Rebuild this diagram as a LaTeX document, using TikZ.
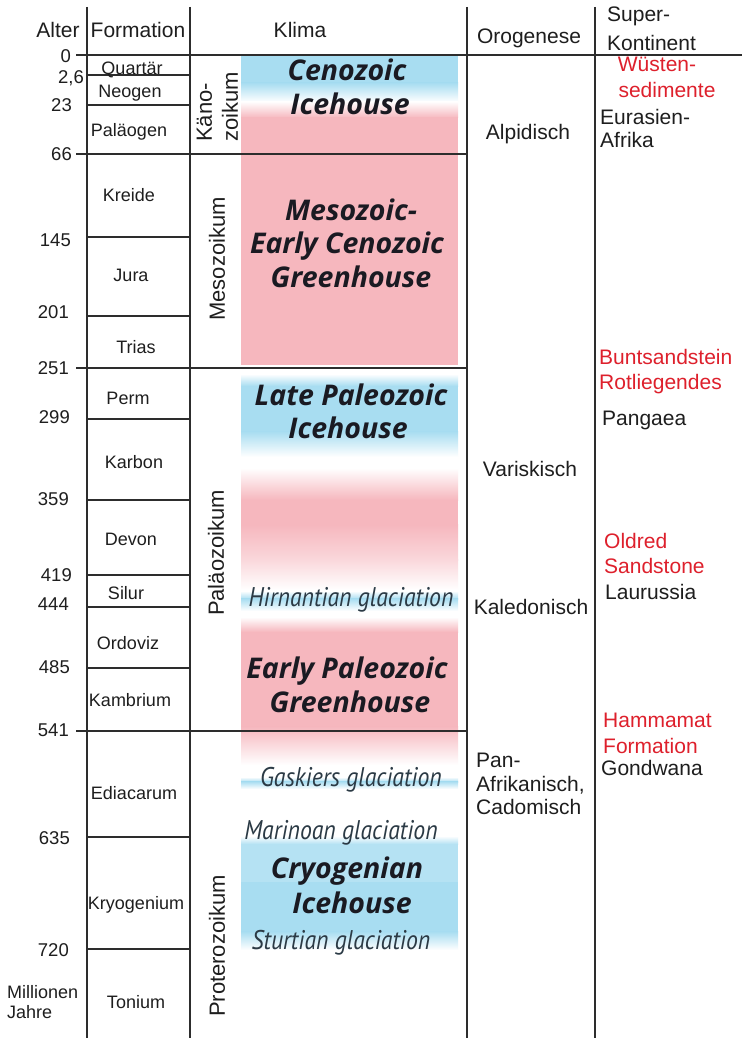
\documentclass[tikz,border=0pt]{standalone}
\usepackage{fontspec}
\setmainfont{Liberation Sans}
\newfontfamily\climfont{Open Sans}
\newfontfamily\glacfont[FakeStretch=0.88]{PT Sans}
\definecolor{pinkc}{RGB}{246,183,190}
\definecolor{bluec}{RGB}{168,221,241}
\definecolor{linec}{RGB}{45,45,45}
\definecolor{redc}{RGB}{222,32,44}
\definecolor{txt}{RGB}{30,30,30}
\definecolor{climtxt}{RGB}{26,26,34}
\definecolor{glactxt}{RGB}{43,58,69}
\newcommand\bandfill[3]{\fill[#3] (241,#1) rectangle (458,#2);}
\newcommand\bandgrad[4]{\shade[top color=#3,bottom color=#4] (241,#1) rectangle (458,#2);}
\begin{document}
\begin{tikzpicture}[x=1pt,y=-1pt,
  hrule/.style={draw=linec,line width=2pt},
  vrule/.style={draw=linec,line width=2.4pt},
  hdr/.style={font=\fontsize{21}{24}\selectfont,text=txt,inner sep=0pt,text height=15.1pt,text depth=0pt},
  fm/.style={font=\fontsize{18}{22}\selectfont,text=txt,inner sep=0pt,text height=13pt,text depth=0pt},
  age/.style={font=\fontsize{18.5}{22}\selectfont,text=txt,inner sep=0pt,text height=13.3pt,text depth=0pt,anchor=east},
  era/.style={font=\fontsize{22}{24}\selectfont,text=txt,inner sep=0pt,text height=15.8pt,text depth=0pt,rotate=90},
  sk/.style={hdr,anchor=west},
  skred/.style={sk,text=redc},
  clim/.style={font=\climfont\bfseries\itshape\fontsize{28.5}{32}\selectfont,text=climtxt,inner sep=0pt,text height=20.3pt,text depth=0pt},
  glac/.style={font=\glacfont\itshape\fontsize{27}{30}\selectfont,text=glactxt,inner sep=0pt,text height=18.9pt,text depth=0pt}
]
\useasboundingbox (0,0) rectangle (742,1038);
\fill[white] (0,0) rectangle (742,1038);
% climate band
\bandfill{55}{83}{bluec}
\bandgrad{83}{102}{bluec}{white}
\bandgrad{101.5}{118}{white}{pinkc}
\bandfill{117.5}{365}{pinkc}
\bandgrad{374}{386}{white}{bluec}
\bandfill{385.5}{432}{bluec}
\bandgrad{431.5}{457}{bluec}{white}
\bandgrad{468}{500}{white}{pinkc}
\bandfill{499.5}{525}{pinkc}
\bandgrad{524.5}{560}{pinkc}{pinkc!55}
\bandgrad{559.5}{590}{pinkc!55}{white}
\bandgrad{591}{599}{white}{bluec}
\bandgrad{598.5}{611}{bluec}{white}
\bandgrad{617}{632}{white}{pinkc}
\bandfill{631.5}{727}{pinkc}
\bandgrad{726.5}{765}{pinkc}{white}
\bandgrad{777}{782}{white}{bluec}
\bandgrad{781.5}{789}{bluec}{white}
\bandgrad{836}{844}{white}{bluec!85}
\bandfill{843.5}{882}{bluec!85}
\bandfill{881.5}{932}{bluec}
\bandgrad{931.5}{950}{bluec}{white}
% vertical rules
\draw[vrule] (87,7) -- (87,1038);
\draw[vrule] (190,7) -- (190,1038);
\draw[vrule] (467,7) -- (467,1038);
\draw[vrule] (595,7) -- (595,1038);
% horizontal rules
\draw[hrule] (76,55) -- (742,55);
\draw[hrule] (76,154) -- (467,154);
\draw[hrule] (76,368) -- (467,368);
\draw[hrule] (76,731) -- (467,731);
\foreach \yy in {75,105,237,316,419,500,575,607,668,837,949}
  \draw[hrule] (87,\yy) -- (190,\yy);
% headers
\node[hdr] (hAlter) at (58,30) {Alter};
\node[hdr] (hForm) at (138,30) {Formation};
\node[hdr] (hKlima) at (300,30) {Klima};
\node[hdr] (hOro) at (529,36) {Orogenese};
\node[sk] (hSup1) at (607,14) {Super-};
\node[sk] (hSup2) at (607,43) {Kontinent};
% ages
\node[age] (a0) at (71,56) {0};
\node[age] (a26) at (84,77) {2,6};
\node[age] (a23) at (72,105) {23};
\node[age] (a66) at (72,154) {66};
\node[age] (a145) at (71,240) {145};
\node[age] (a201) at (69,312) {201};
\node[age] (a251) at (69,368) {251};
\node[age] (a299) at (70,417) {299};
\node[age] (a359) at (69,499) {359};
\node[age] (a419) at (72,575) {419};
\node[age] (a444) at (69,604) {444};
\node[age] (a485) at (70,667) {485};
\node[age] (a541) at (69,730) {541};
\node[age] (a635) at (70,838) {635};
\node[age] (a720) at (69,950) {720};
\node[fm,anchor=west] (mio1) at (7,992) {Millionen};
\node[fm,anchor=west] (mio2) at (7,1012) {Jahre};
% formations
\node[fm] (fQ) at (132,68) {Quartär};
\node[fm] (fN) at (130,91) {Neogen};
\node[fm] (fP) at (129,130) {Paläogen};
\node[fm] (fK) at (129,195) {Kreide};
\node[fm] (fJ) at (131,275) {Jura};
\node[fm] (fT) at (136,347) {Trias};
\node[fm] (fPe) at (128,398) {Perm};
\node[fm] (fKa) at (134,462) {Karbon};
\node[fm] (fD) at (131,539) {Devon};
\node[fm] (fS) at (126,593) {Silur};
\node[fm] (fO) at (128,643) {Ordoviz};
\node[fm] (fKb) at (130,700) {Kambrium};
\node[fm] (fE) at (134,793) {Ediacarum};
\node[fm] (fKr) at (136,903) {Kryogenium};
\node[fm] (fTo) at (136,1002) {Tonium};
% eras
\node[era,anchor=west] (eK1) at (204,142) {Käno-};
\node[era,anchor=west] (eK2) at (230,142) {zoikum};
\node[era] (eM) at (217,259) {Mesozoikum};
\node[era] (eP) at (216,553) {Paläozoikum};
\node[era] (ePr) at (217,946) {Proterozoikum};
% climate
\node[clim] (c1) at (347,70) {Cenozoic};
\node[clim] (c2) at (350,104) {Icehouse};
\node[clim] (c3) at (351,210) {Mesozoic-};
\node[clim] (c4) at (347,243) {Early Cenozoic};
\node[clim] (c5) at (351,277) {Greenhouse};
\node[clim] (c6) at (351,395) {Late Paleozoic};
\node[clim] (c7) at (348,428) {Icehouse};
\node[glac] (g1) at (351,597) {Hirnantian glaciation};
\node[clim] (c8) at (347,668) {Early Paleozoic};
\node[clim] (c9) at (350,702) {Greenhouse};
\node[glac] (g2) at (351,777) {Gaskiers glaciation};
\node[glac] (g3) at (341,830) {Marinoan glaciation};
\node[clim] (c10) at (347,868) {Cryogenian};
\node[clim] (c11) at (352,903) {Icehouse};
\node[glac] (g4) at (341,940) {Sturtian glaciation};
% orogeny
\node[hdr] (o1) at (528,132) {Alpidisch};
\node[hdr] (o2) at (530,469) {Variskisch};
\node[hdr] (o3) at (531,607) {Kaledonisch};
\node[sk] (o4a) at (476,760) {Pan-};
\node[sk] (o4b) at (476,784) {Afrikanisch,};
\node[sk] (o4c) at (476,807) {Cadomisch};
% supercontinent
\node[hdr,text=redc] (s1a) at (657,64) {Wüsten-};
\node[hdr,text=redc] (s1b) at (667,90) {sedimente};
\node[sk] (s1c) at (600,117) {Eurasien-};
\node[sk] (s1d) at (600,140) {Afrika};
\node[skred] (s2a) at (599,357) {Buntsandstein};
\node[skred] (s2b) at (599,382) {Rotliegendes};
\node[sk] (s2c) at (602,418) {Pangaea};
\node[skred] (s3a) at (604,541) {Oldred};
\node[skred] (s3b) at (604,566) {Sandstone};
\node[sk] (s3c) at (605,592) {Laurussia};
\node[skred] (s4a) at (603,720) {Hammamat};
\node[skred] (s4b) at (603,746) {Formation};
\node[sk] (s4c) at (601,768) {Gondwana};
\end{tikzpicture}
\end{document}
